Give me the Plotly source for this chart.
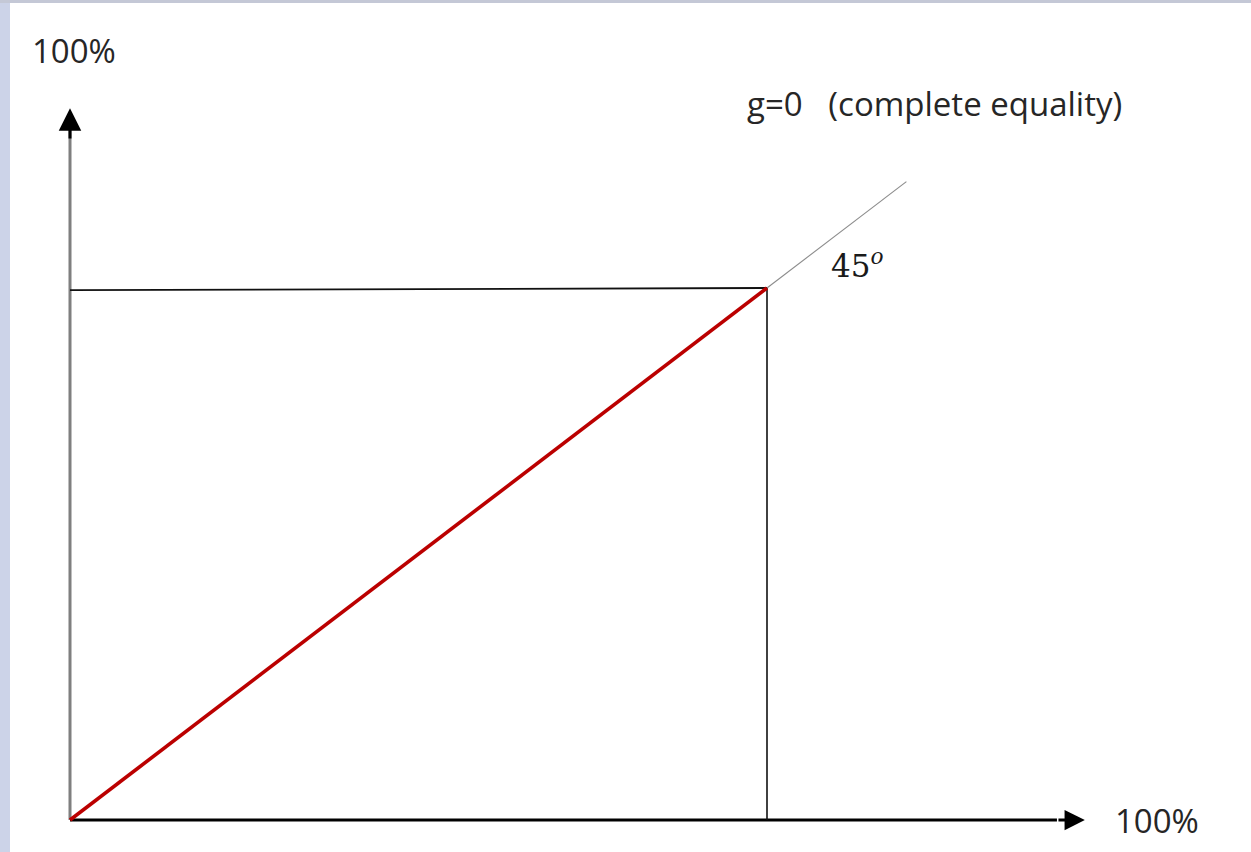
import plotly.graph_objects as go

# Line of complete equality and the square it sits in (percent of population / income)
equality_x = [0, 100]
equality_y = [0, 100]
extension_x = [100, 120]
extension_y = [100, 120]
box_top_x = [0, 100]
box_top_y = [99.6, 100]
box_right_x = [100, 100]
box_right_y = [0, 100]

# Axis extents (arrow tips)
x_axis_end = 145.6
y_axis_end = 133.8

axis_label = "100%"
equality_label = "g=0&nbsp;&nbsp;&nbsp;(complete equality)"
angle_label = "45<sup><i>o</i></sup>"

W, H = 1251, 852
x0_px, x100_px = 70, 767
y0_px, y100_px = 820, 288
sx = (x100_px - x0_px) / 100.0
sy = (y0_px - y100_px) / 100.0
x_range = [-x0_px / sx, (W - x0_px) / sx]
y_range = [-(H - y0_px) / sy, y0_px / sy]

fig = go.Figure()

# axes
fig.add_trace(go.Scatter(x=[0, 0], y=[0, y_axis_end - 4], mode="lines",
                         line=dict(color="#7f7f7f", width=3), hoverinfo="skip"))
fig.add_trace(go.Scatter(x=[0, x_axis_end - 4], y=[0, 0], mode="lines",
                         line=dict(color="#000000", width=3), hoverinfo="skip"))

# square
fig.add_trace(go.Scatter(x=box_top_x, y=box_top_y, mode="lines",
                         line=dict(color="#111111", width=1.8), hoverinfo="skip"))
fig.add_trace(go.Scatter(x=box_right_x, y=box_right_y, mode="lines",
                         line=dict(color="#111111", width=1.6), hoverinfo="skip"))

# 45 degree line extension
fig.add_trace(go.Scatter(x=extension_x, y=extension_y, mode="lines",
                         line=dict(color="#8c8c8c", width=1.1), hoverinfo="skip"))

# line of complete equality
fig.add_trace(go.Scatter(x=equality_x, y=equality_y, mode="lines",
                         line=dict(color="#bb0000", width=3.6), hoverinfo="skip"))

# arrowheads
fig.add_annotation(x=0, y=y_axis_end, ax=0, ay=y_axis_end - 6,
                   xref="x", yref="y", axref="x", ayref="y", text="",
                   showarrow=True, arrowhead=2, arrowsize=1.5, arrowwidth=3,
                   arrowcolor="#000000")
fig.add_annotation(x=x_axis_end, y=0, ax=x_axis_end - 4, ay=0,
                   xref="x", yref="y", axref="x", ayref="y", text="",
                   showarrow=True, arrowhead=2, arrowsize=1.35, arrowwidth=3,
                   arrowcolor="#000000")

text_font = dict(family="Open Sans, Lato, sans-serif", size=33, color="#262626")

fig.add_annotation(x=0.6, y=144.6, xref="x", yref="y", text=axis_label,
                   showarrow=False, font=text_font, xanchor="center", yanchor="middle")
fig.add_annotation(x=156.0, y=0, xref="x", yref="y", text=axis_label,
                   showarrow=False, font=text_font, xanchor="center", yanchor="middle")
fig.add_annotation(x=124.1, y=134.6, xref="x", yref="y", text=equality_label,
                   showarrow=False, font=text_font, xanchor="center", yanchor="middle")
fig.add_annotation(x=113.0, y=104.6, xref="x", yref="y", text=angle_label,
                   showarrow=False,
                   font=dict(family="DejaVu Serif, Liberation Serif, serif", size=31, color="#1a1a1a"),
                   xanchor="center", yanchor="middle")

# frame strips along the top and left edges
fig.add_shape(type="rect", xref="paper", yref="paper", x0=0, x1=10 / W, y0=0, y1=1,
              fillcolor="#ccd3e8", line=dict(width=0), layer="below")
fig.add_shape(type="rect", xref="paper", yref="paper", x0=0, x1=1, y0=1 - 3 / H, y1=1,
              fillcolor="#c4c8d6", line=dict(width=0), layer="below")

fig.update_layout(
    width=W, height=H,
    margin=dict(l=0, r=0, t=0, b=0),
    paper_bgcolor="#ffffff", plot_bgcolor="#ffffff",
    showlegend=False,
    xaxis=dict(range=x_range, visible=False, fixedrange=True),
    yaxis=dict(range=y_range, visible=False, fixedrange=True),
)

fig.write_html("out.html")
